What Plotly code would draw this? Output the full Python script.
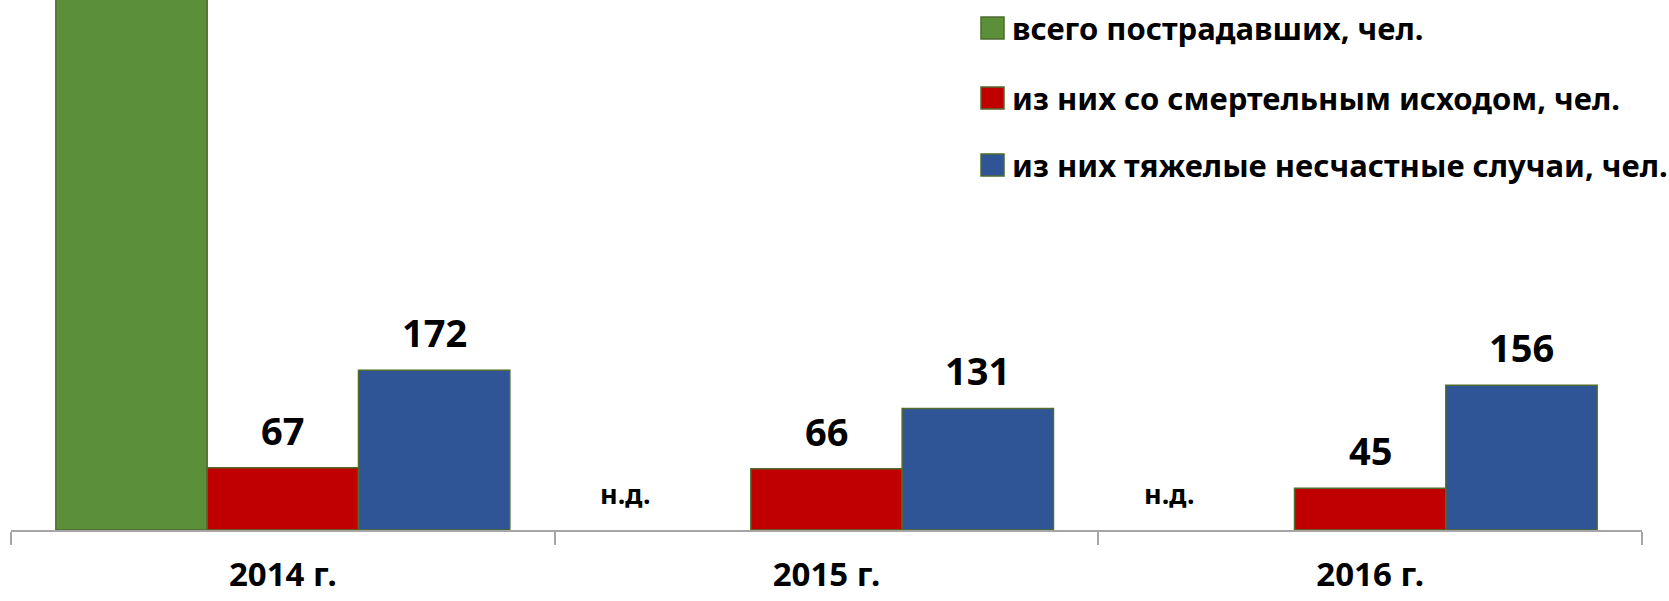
import plotly.graph_objects as go

categories = ["2014 г.", "2015 г.", "2016 г."]
total_injured = [620, None, None]          # clipped above the visible range in the original
fatal = [67, 66, 45]
severe = [172, 131, 156]
no_data_label = "н.д."
series_names = ["всего пострадавших, чел.",
                "из них со смертельным исходом, чел.",
                "из них тяжелые несчастные случаи, чел."]
colors = ["#5B8F3A", "#C00000", "#2F5597"]

FONT = "Noto Sans"
x = list(range(len(categories)))
edge = "#4F6B2E"
W, H = 1669, 601
ML, MR, MT, MB = 11, 27, 0, 71
PW, PH = W - ML - MR, H - MT - MB

fig = go.Figure()
for name, vals, col in zip(series_names, [total_injured, fatal, severe], colors):
    fig.add_trace(go.Bar(x=x, y=vals, name=name, marker=dict(color=col, line=dict(color=edge, width=1.5)),
                         showlegend=False, hoverinfo="skip"))

bargap = 0.165
bw = (1 - bargap) / 3
annotations = []
# value labels
for off, vals in [(0, fatal), (bw, severe)]:
    for i, v in enumerate(vals):
        annotations.append(dict(x=i + off, y=v, xref="x", yref="y", text=f"<b>{v}</b>", showarrow=False,
                                yanchor="bottom", yshift=10, font=dict(family=FONT, size=38, color="black")))
# no data labels
for i, v in enumerate(total_injured):
    if v is None:
        annotations.append(dict(x=i - 0.369, y=39, xref="x", yref="y", text=f"<b>{no_data_label}</b>",
                                showarrow=False, yanchor="middle",
                                font=dict(family=FONT, size=27, color="black")))
# manual legend
leg_y = [28, 98, 165]
shapes = []
for name, col, yc in zip(series_names, colors, leg_y):
    shapes.append(dict(type="rect", xref="paper", yref="paper",
                       x0=(981 - ML) / PW, x1=(1004 - ML) / PW,
                       y0=1 - (yc + 11) / PH, y1=1 - (yc - 11) / PH,
                       fillcolor=col, line=dict(color=edge, width=1.5)))
    annotations.append(dict(x=(1010 - ML) / PW, y=1 - yc / PH, xref="paper", yref="paper",
                            text=f"<b>{name}</b>", showarrow=False, xanchor="left", yanchor="middle",
                            font=dict(family=FONT, size=31, color="black")))

fig.update_layout(
    width=W, height=H,
    margin=dict(l=ML, r=MR, t=MT, b=MB, autoexpand=False),
    paper_bgcolor="white", plot_bgcolor="white",
    barmode="group", bargap=bargap, bargroupgap=0,
    annotations=annotations, shapes=shapes,
    xaxis=dict(range=[-0.5, 2.5], tickvals=x, ticktext=[f"<b>{c}</b>" for c in categories],
               ticks="", showgrid=False, zeroline=False, showline=True, linecolor="#A6A6A6", linewidth=2,
               automargin=False,
               tickfont=dict(family=FONT, size=33, color="black"), ticklabelstandoff=14,
               minor=dict(ticks="outside", ticklen=13, tick0=-0.5, dtick=1, tickcolor="#A6A6A6",
                          tickwidth=2, showgrid=False)),
    yaxis=dict(range=[0, 571], visible=False, showgrid=False, zeroline=False, automargin=False),
)
fig.write_html("out.html", config={"displayModeBar": False},
               post_script="document.body.style.margin='0px';document.body.style.overflow='hidden';")
